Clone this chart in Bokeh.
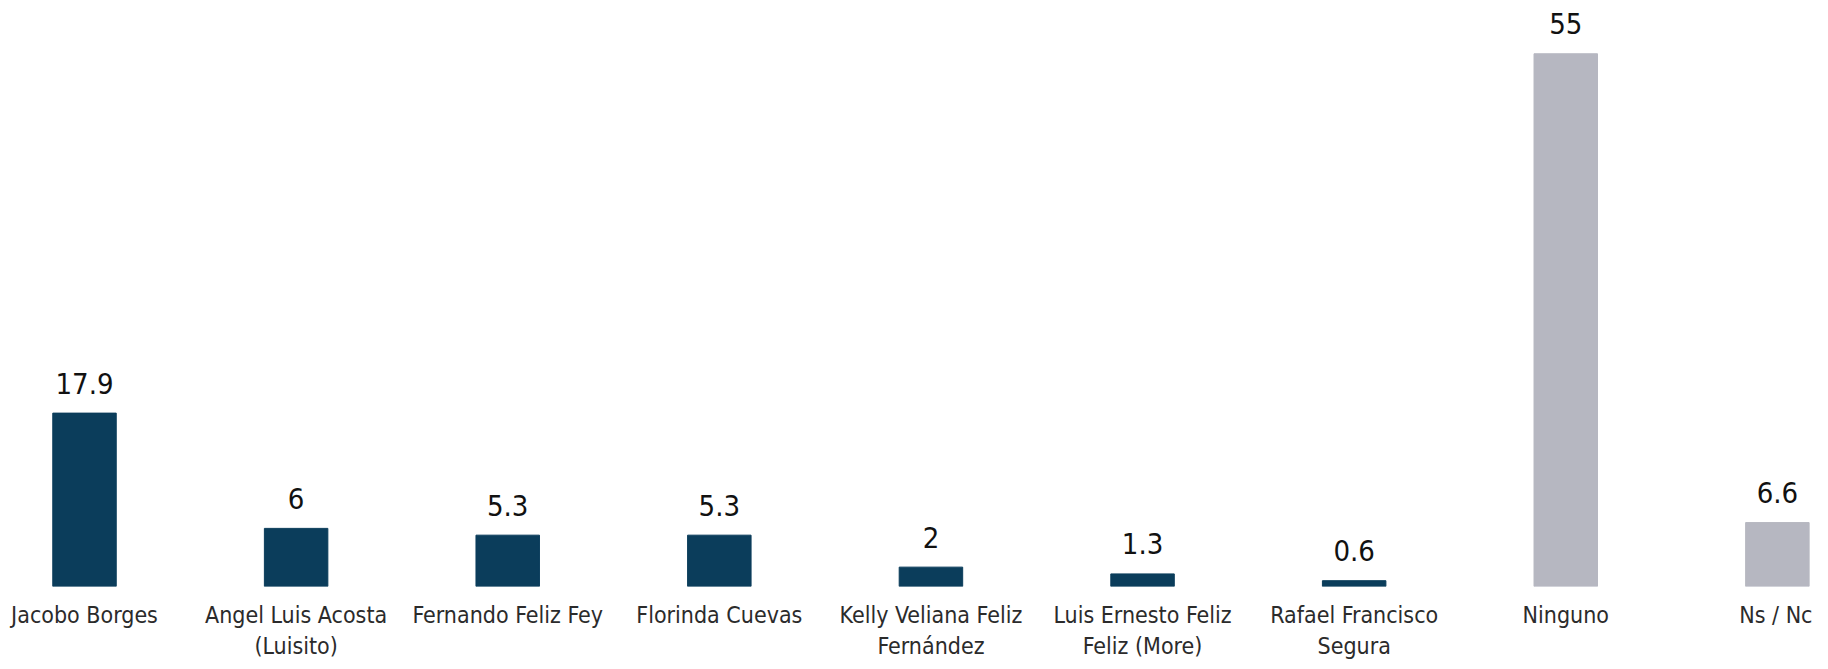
from bokeh.plotting import figure
from bokeh.models import ColumnDataSource, Range1d, FixedTicker
from bokeh.core.properties import value
from bokeh.embed import file_html
from bokeh.resources import INLINE

categories = [
    "Jacobo Borges",
    "Angel Luis Acosta\n(Luisito)",
    "Fernando Feliz Fey",
    "Florinda Cuevas",
    "Kelly Veliana Feliz\nFernández",
    "Luis Ernesto Feliz\nFeliz (More)",
    "Rafael Francisco\nSegura",
    "Ninguno",
    "Ns / Nc",
]
values = [17.9, 6, 5.3, 5.3, 2, 1.3, 0.6, 55, 6.6]
value_labels = ["17.9", "6", "5.3", "5.3", "2", "1.3", "0.6", "55", "6.6"]
is_candidate = [True, True, True, True, True, True, True, False, False]

DARK = "#0b3d5b"
GRAY = "#b6b7c1"
FONT = "'DejaVu Sans Condensed', 'DejaVu Sans', sans-serif"

xs = list(range(len(categories)))
colors = [DARK if c else GRAY for c in is_candidate]
src = ColumnDataSource(dict(x=xs, top=values, lab=value_labels, color=colors))

p = figure(width=1812, height=661, output_backend="svg", toolbar_location=None,
           x_range=Range1d(-0.397, 8.166), y_range=Range1d(0, 60.5),
           min_border_left=0, min_border_right=0, min_border_top=0, min_border_bottom=0)
p.vbar(x="x", top="top", width=0.30, bottom=0, color="color", source=src)
p.text(x="x", y="top", text="lab", source=src, text_align="center",
       text_baseline="alphabetic", y_offset=-30, text_font_size="29px",
       text_font=value(FONT), text_color="#111111")

p.yaxis.visible = False
p.xaxis.ticker = FixedTicker(ticks=xs)
p.xaxis.major_label_overrides = {i: c for i, c in zip(xs, categories)}
p.xaxis.axis_line_color = None
p.xaxis.major_tick_line_color = None
p.xaxis.minor_tick_line_color = None
p.xaxis.major_label_standoff = 9
p.xaxis.major_label_text_font = FONT
p.xaxis.major_label_text_font_size = "23px"
p.xaxis.major_label_text_color = "#2b2b2b"
p.xgrid.visible = False
p.ygrid.visible = False
p.outline_line_color = None

open("out.html", "w").write(file_html(p, INLINE))
